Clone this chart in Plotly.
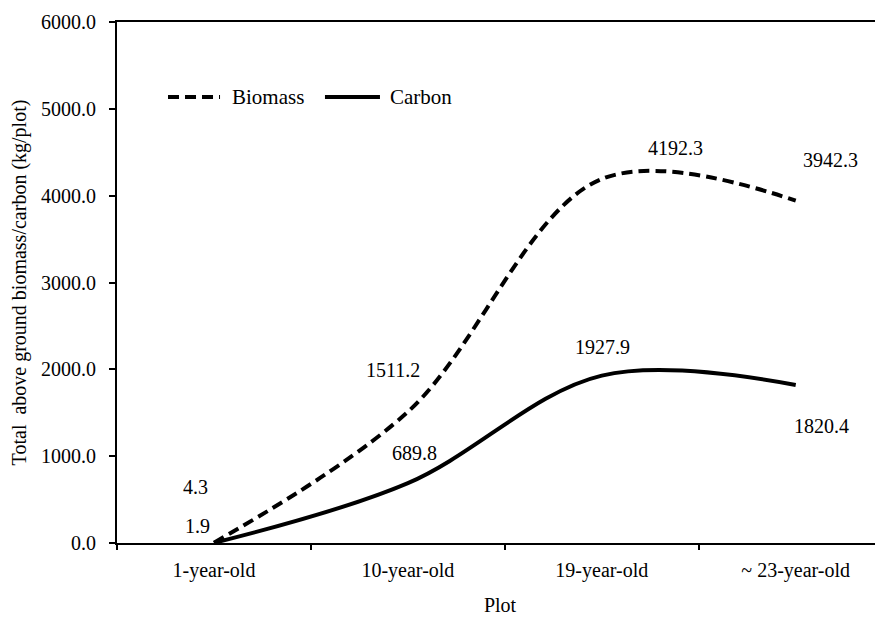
import plotly.graph_objects as go

categories = ["1-year-old", "10-year-old", "19-year-old", "~ 23-year-old"]
biomass = [4.3, 1511.2, 4192.3, 3942.3]
carbon = [1.9, 689.8, 1927.9, 1820.4]
series_names = ["Biomass", "Carbon"]

# label pixel offsets (style only)
bio_shift = [(-18, 56), (-15, 42), (74, 31), (35, 41)]
car_shift = [(-16, 17), (7, 30), (1, 29), (26, -41)]

FONT = "Liberation Serif"
FS = 20
DASH = "11px,6px"

fig = go.Figure()
fig.add_trace(go.Scatter(
    x=categories, y=biomass, name=series_names[0], mode="lines",
    line=dict(color="black", width=4, dash=DASH, shape="spline", smoothing=1.0),
))
fig.add_trace(go.Scatter(
    x=categories, y=carbon, name=series_names[1], mode="lines",
    line=dict(color="black", width=4, shape="spline", smoothing=1.0),
))

anns = []
for c, v, (dx, dy) in zip(categories, biomass, bio_shift):
    anns.append(dict(x=c, y=v, text=f"{v:.1f}", showarrow=False, xshift=dx, yshift=dy,
                     font=dict(family=FONT, size=FS, color="black")))
for c, v, (dx, dy) in zip(categories, carbon, car_shift):
    anns.append(dict(x=c, y=v, text=f"{v:.1f}", showarrow=False, xshift=dx, yshift=dy,
                     font=dict(family=FONT, size=FS, color="black")))

# legend drawn inside the plot, top-left
leg_y = 0.856
anns.append(dict(xref="paper", yref="paper", x=0.1475, y=leg_y, text=series_names[0],
                 showarrow=False, xanchor="left", yanchor="middle",
                 font=dict(family=FONT, size=21, color="black")))
anns.append(dict(xref="paper", yref="paper", x=0.3538, y=leg_y, text=series_names[1],
                 showarrow=False, xanchor="left", yanchor="middle",
                 font=dict(family=FONT, size=21, color="black")))
shapes = [
    dict(type="line", xref="paper", yref="paper", x0=0.0666, x1=0.1345, y0=leg_y, y1=leg_y,
         line=dict(color="black", width=4, dash=DASH)),
    dict(type="line", xref="paper", yref="paper", x0=0.2715, x1=0.3433, y0=leg_y, y1=leg_y,
         line=dict(color="black", width=4)),
]

fig.update_layout(
    width=875, height=609,
    margin=dict(l=109, r=0, t=14, b=74),
    paper_bgcolor="white", plot_bgcolor="white",
    font=dict(family=FONT, size=FS, color="black"),
    annotations=anns,
    shapes=shapes,
    showlegend=False,
    xaxis=dict(
        type="category", range=[-0.5, 3.45], automargin=False,
        showline=True, linecolor="black", linewidth=2, mirror=True,
        ticks="outside", ticklen=5, tickcolor="black", tickwidth=1.5,
        tickson="boundaries", showgrid=False, zeroline=False,
        ticklabelstandoff=8,
        tickfont=dict(family=FONT, size=FS, color="black"),
        title=dict(text="Plot", font=dict(family=FONT, size=FS, color="black"), standoff=17),
    ),
    yaxis=dict(
        range=[0, 6000], dtick=1000, tick0=0, tickformat=".1f", automargin=False,
        showline=True, linecolor="black", linewidth=2,
        ticks="outside", ticklen=6, tickcolor="black", tickwidth=1.5,
        showgrid=False, zeroline=False,
        ticklabelstandoff=9,
        tickfont=dict(family=FONT, size=FS, color="black"),
        title=dict(text="Total  above ground biomass/carbon (kg/plot)",
                   font=dict(family=FONT, size=FS, color="black"), standoff=9),
    ),
)

fig.write_html("out.html")
